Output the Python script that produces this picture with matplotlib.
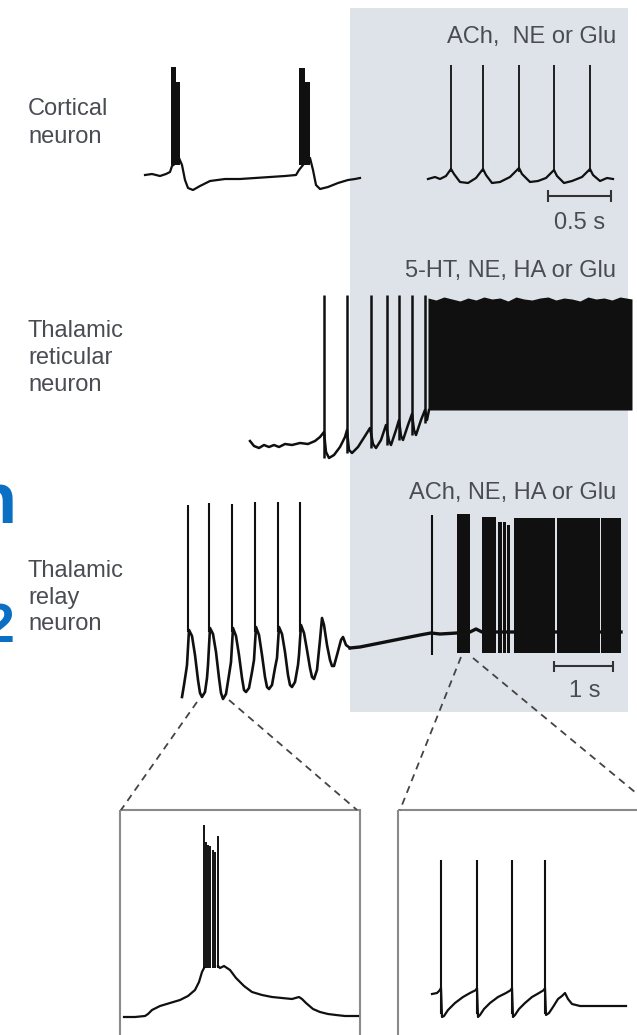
import matplotlib
matplotlib.use('Agg')
import matplotlib.pyplot as plt
from matplotlib.patches import Rectangle

# drawing units = picture pixels (x to the right, y downwards)
ink = '#101010'
txt = '#4a4c54'
panel = '#dde3e8'
fam = ['Liberation Sans', 'DejaVu Sans']

# cortical neuron, burst mode (left) and tonic mode (right)
cort_x = [145, 152, 160, 166, 170, 172, 176, 179, 182, 185, 188, 193, 200, 210, 225, 240, 255, 270, 285, 296,
          299, 303, 307, 310, 313, 316, 320, 328, 338, 348, 355, 360]
cort_y = [175, 174, 176, 174, 172, 166, 163, 158, 165, 180, 188, 190, 186, 181, 179, 179, 178, 177, 176, 175,
          170, 165, 160, 158, 170, 185, 189, 187, 183, 180, 179, 178]
cort_burst_x0 = [171, 176, 299, 305]
cort_burst_x1 = [176, 180, 305, 310]
cort_burst_top = [67, 82, 68, 82]
cort_burst_base = 165

tonic_x = [428, 435, 440, 446, 451, 454, 460, 468, 476, 483, 486, 492, 500, 510, 519, 522, 530, 538, 546,
           554, 557, 564, 572, 582, 590, 593, 600, 607, 613]
tonic_y = [179, 177, 179, 176, 169, 174, 182, 183, 178, 169, 175, 183, 182, 177, 168, 174, 182, 181, 178,
           170, 176, 183, 181, 177, 169, 175, 181, 178, 179]
tonic_spikes = [451, 483, 519, 554, 590]
tonic_top = 65

# thalamic reticular neuron
ret_x = [250, 254, 259, 264, 269, 274, 279, 285, 292, 300, 308, 315, 320, 324, 326, 329, 334, 340, 345, 347,
         349, 352, 358, 365, 370, 373, 376, 381, 386, 389, 391, 396, 399, 401, 403, 408, 412, 414, 416, 421,
         425, 427, 429]
ret_y = [441, 446, 448, 445, 447, 445, 447, 444, 445, 443, 444, 441, 437, 432, 452, 458, 455, 447, 437, 430,
         450, 453, 447, 436, 428, 444, 448, 440, 425, 441, 445, 430, 420, 436, 440, 425, 414, 430, 435, 420,
         410, 420, 410]
ret_spikes = [324, 347, 371, 387, 399, 412, 425]
ret_trough = [458, 453, 448, 445, 440, 435, 423]
ret_top = 295
ret_block_x = [428, 436, 444, 452, 460, 468, 476, 484, 492, 500, 508, 516, 524, 532, 540, 548, 556, 564, 572,
               580, 588, 596, 604, 612, 620, 632]
ret_block_top = [298, 300, 297, 299, 301, 298, 300, 297, 299, 298, 301, 297, 299, 300, 298, 297, 300, 298, 299,
                 301, 297, 299, 298, 300, 297, 299]
ret_block_bottom = 410

# thalamic relay neuron
relay_x = [182, 184, 186, 187, 189, 192, 195, 198, 200, 202, 205, 207, 208, 210, 213, 216, 219, 221, 223, 226,
           229, 231, 233, 236, 239, 242, 244, 246, 249, 252, 254, 256, 259, 262, 265, 267, 269, 272, 275, 277,
           279, 282, 285, 288, 290, 292, 295, 298, 299, 301, 304, 307, 310, 312, 314, 317, 320, 322, 324, 327,
           330, 332, 334, 337, 341, 343, 346, 350]
relay_y = [697, 685, 672, 665, 630, 636, 655, 680, 693, 697, 692, 678, 665, 628, 634, 652, 678, 693, 699, 694,
           675, 662, 628, 636, 655, 678, 690, 692, 688, 672, 660, 627, 635, 655, 677, 687, 689, 685, 668, 658,
           627, 634, 652, 675, 685, 687, 682, 665, 655, 625, 633, 650, 668, 677, 679, 670, 640, 618, 625, 645,
           660, 666, 666, 655, 640, 637, 645, 648]
relay_spikes = [188, 209, 232, 255, 278, 300]
relay_top = [505, 503, 504, 502, 502, 502]
relay_spike_base = 632

drift_x = [350, 360, 375, 390, 405, 420, 431, 440, 457, 470, 476, 482, 540, 621]
drift_y = [648, 647, 644, 641, 638, 635, 633, 634, 633, 632, 629, 632, 632, 632]
single_spike = 432
single_top, single_bottom = 515, 655
relay_block_x0 = [457, 482, 497.5, 502.5, 507, 514, 556.5, 601]
relay_block_x1 = [470, 496, 501.5, 505.5, 510, 555, 600, 621]
relay_block_top = [514, 517, 522, 522, 525, 518, 518, 518]
relay_block_bottom = 653

# expanded insets
burst_in_x = [124, 135, 145, 148, 152, 160, 170, 180, 188, 195, 199, 202, 204]
burst_in_y = [1017, 1017, 1016, 1014, 1010, 1006, 1003, 1000, 996, 990, 982, 972, 968]
burst_in_spikes = [204, 206, 208, 210, 212.5, 215, 217.5]
burst_in_top = [825, 842, 845, 846, 850, 852, 836]
burst_in_base = 968
after_in_x = [218, 220, 224, 230, 236, 244, 252, 262, 272, 282, 292, 299, 302, 306, 313, 320, 328, 336, 345,
              352, 358]
after_in_y = [966, 968, 966, 970, 978, 986, 992, 995, 997, 998, 999, 997, 999, 1003, 1009, 1012, 1014, 1015,
              1016, 1016, 1016]

tonic_in_x = [432, 437, 440, 441, 442, 444, 448, 455, 463, 470, 476, 477, 478, 480, 484, 490, 498, 506, 511,
              512, 513, 515, 519, 525, 532, 539, 544, 545, 546, 549, 553, 558, 562, 565, 568, 572, 580, 595,
              610, 626]
tonic_in_y = [994, 993, 990, 988, 1017, 1016, 1010, 1003, 997, 993, 990, 988, 1017, 1015, 1009, 1003, 997,
              993, 990, 988, 1017, 1015, 1009, 1003, 997, 993, 990, 988, 1015, 1013, 1007, 999, 996, 993, 999,
              1004, 1006, 1006, 1006, 1006]
tonic_in_spikes = [441, 477, 512, 545]
tonic_in_top, tonic_in_base = 860, 1017

fig = plt.figure(figsize=(6.37, 10.35), dpi=100)
ax = fig.add_axes([0, 0, 1, 1])
ax.set_xlim(0, 637)
ax.set_ylim(1035, 0)
ax.axis('off')

ax.add_patch(Rectangle((350, 8), 278, 704, facecolor=panel, edgecolor='none', zorder=0))

# blue slide text peeking in at the left edge
ax.text(16, 523, 'n', fontsize=52, fontweight='bold', color='#0b6fc4', ha='right', va='baseline', family=fam)
ax.text(14, 642, '2', fontsize=40, fontweight='bold', color='#0b6fc4', ha='right', va='baseline', family=fam)

lw = 1.6

# cortical
ax.plot(cort_x, cort_y, color=ink, lw=lw)
for a, b, t in zip(cort_burst_x0, cort_burst_x1, cort_burst_top):
    ax.fill_between([a, b], [t, t], [cort_burst_base, cort_burst_base], color=ink, lw=0)
ax.plot(tonic_x, tonic_y, color=ink, lw=lw)
ax.vlines(tonic_spikes, tonic_top, 172, color=ink, lw=1.3)

# reticular
ax.plot(ret_x, ret_y, color=ink, lw=1.8)
ax.vlines(ret_spikes, ret_top, ret_trough, color=ink, lw=1.8)
ax.fill_between(ret_block_x, ret_block_top, ret_block_bottom, color=ink, lw=0)

# relay
ax.plot(relay_x, relay_y, color=ink, lw=1.9)
ax.vlines(relay_spikes, relay_top, relay_spike_base, color=ink, lw=1.5)
ax.plot(drift_x, drift_y, color=ink, lw=2.4)
ax.vlines(single_spike, single_top, single_bottom, color=ink, lw=1.5)
for a, b, t in zip(relay_block_x0, relay_block_x1, relay_block_top):
    ax.fill_between([a, b], [t, t], [relay_block_bottom, relay_block_bottom], color=ink, lw=0)

# scale bars
bar = '#333333'
ax.hlines(196, 548, 611, color=bar, lw=1.5)
ax.vlines([548, 611], 190, 202, color=bar, lw=1.5)
ax.hlines(666, 554, 613, color=bar, lw=1.5)
ax.vlines([554, 613], 661, 672, color=bar, lw=1.5)
ax.text(580, 229, '0.5 s', fontsize=17, color=txt, ha='center', va='baseline', family=fam)
ax.text(585, 697, '1 s', fontsize=17, color=txt, ha='center', va='baseline', family=fam)

# labels
for s, y in [('Cortical', 115), ('neuron', 143), ('Thalamic', 337), ('reticular', 364), ('neuron', 391),
             ('Thalamic', 577), ('relay', 604), ('neuron', 630)]:
    ax.text(28, y, s, fontsize=17, color=txt, ha='left', va='baseline', family=fam)
for s, y in [('ACh,  NE or Glu', 43), ('5-HT, NE, HA or Glu', 277), ('ACh, NE, HA or Glu', 499)]:
    ax.text(616, y, s, fontsize=17, color=txt, ha='right', va='baseline', family=fam)

# zoom guides and inset frames
dash = dict(color='#444444', lw=1.3, ls=(0, (4, 3)))
ax.plot([197, 121], [702, 810], **dash)
ax.plot([229, 357], [700, 810], **dash)
ax.plot([461, 400], [657, 810], **dash)
ax.plot([473, 659], [658, 812], **dash)
ax.add_patch(Rectangle((120, 810), 240, 240, facecolor='none', edgecolor='#8a8a8a', lw=1.5))
ax.add_patch(Rectangle((398, 810), 260, 240, facecolor='none', edgecolor='#8a8a8a', lw=1.5))

ax.plot(burst_in_x, burst_in_y, color=ink, lw=lw)
ax.vlines(burst_in_spikes, burst_in_top, burst_in_base, color='black', lw=1.3)
ax.plot(after_in_x, after_in_y, color=ink, lw=lw)
ax.plot(tonic_in_x, tonic_in_y, color=ink, lw=lw)
ax.vlines(tonic_in_spikes, tonic_in_top, tonic_in_base - 3, color=ink, lw=1.5)

fig.savefig('out.png', dpi=100)
